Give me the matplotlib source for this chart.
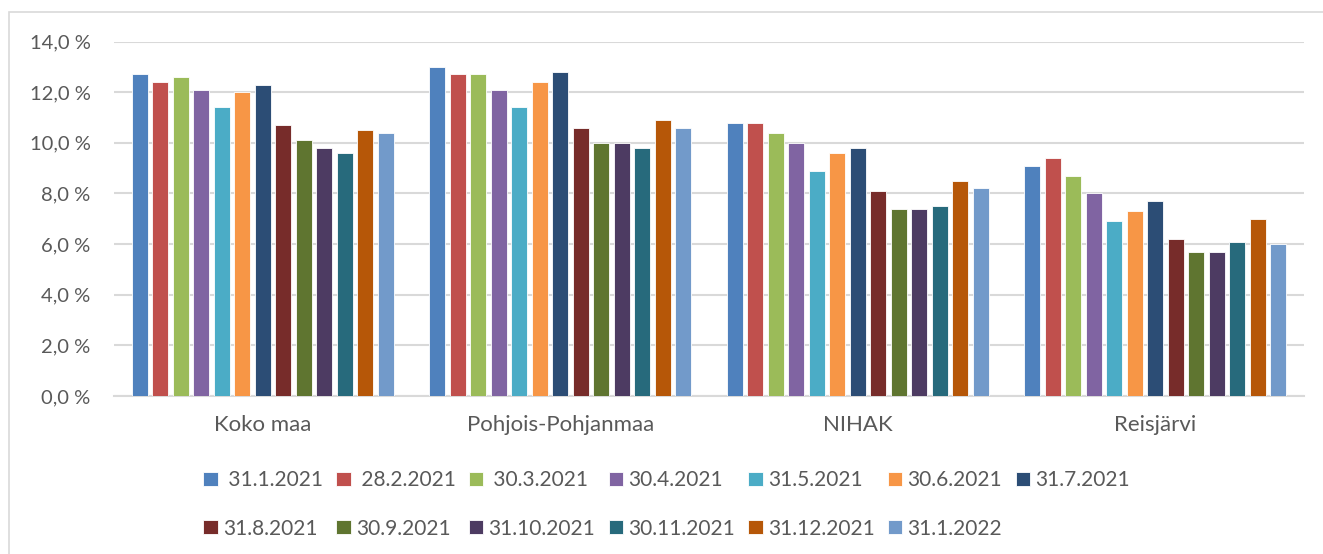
import matplotlib

matplotlib.use("Agg")
import matplotlib.pyplot as plt
import numpy as np
from matplotlib.patches import Rectangle

regions = ["Koko maa", "Pohjois-Pohjanmaa", "NIHAK", "Reisjärvi"]
dates = [
    " 31.1.2021", " 28.2.2021", " 30.3.2021", "30.4.2021", "31.5.2021",
    "30.6.2021", "31.7.2021", "31.8.2021", "30.9.2021", "31.10.2021",
    "30.11.2021", "31.12.2021", "31.1.2022",
]
# unemployment rate (%) per date, columns follow `regions`
rates = [
    [12.7, 13.0, 10.8, 9.1],
    [12.4, 12.7, 10.8, 9.4],
    [12.6, 12.7, 10.4, 8.7],
    [12.1, 12.1, 10.0, 8.0],
    [11.4, 11.4, 8.9, 6.9],
    [12.0, 12.4, 9.6, 7.3],
    [12.3, 12.8, 9.8, 7.7],
    [10.7, 10.6, 8.1, 6.2],
    [10.1, 10.0, 7.4, 5.7],
    [9.8, 10.0, 7.4, 5.7],
    [9.6, 9.8, 7.5, 6.1],
    [10.5, 10.9, 8.5, 7.0],
    [10.4, 10.6, 8.2, 6.0],
]
colors = [
    "#4F81BD", "#C0504D", "#9BBB59", "#8064A2", "#4BACC6", "#F79646",
    "#2C4D75", "#772C2A", "#5F7530", "#4D3B62", "#276A7C", "#B65708",
    "#729ACA",
]
yticks = [0, 2, 4, 6, 8, 10, 12, 14]

TEXT = "#595959"
GRID = "#D9D9D9"
plt.rcParams["font.family"] = ["Lato", "DejaVu Sans"]

W, H = 1323, 554
fig = plt.figure(figsize=(W / 100, H / 100), dpi=100)
ax = fig.add_axes([114 / W, 1 - 396 / H, (1304 - 114) / W, (396 - 41.5) / H])

x = np.arange(len(regions))
slot = 20.5 / 297.5
n = len(dates)
for i, (label, vals, col) in enumerate(zip(dates, rates, colors)):
    offs = (i - (n - 1) / 2) * slot
    ax.bar(x + offs, vals, width=slot * 0.8, color=col, label=label,
           edgecolor="white", linewidth=0.6, zorder=3)

ax.set_xlim(-0.5, len(regions) - 0.5)
ax.set_ylim(0, 14)
ax.set_yticks(yticks)
ax.set_yticklabels([f"{v:.1f} %".replace(".", ",") for v in yticks])
ax.set_xticks(x)
ax.set_xticklabels(regions)
ax.tick_params(axis="both", length=0, colors=TEXT)
ax.tick_params(axis="y", pad=17, labelsize=14.5)
ax.tick_params(axis="x", pad=14, labelsize=16)
ax.grid(axis="y", color=GRID, linewidth=1.5, zorder=0)
for side in ["top", "right", "left"]:
    ax.spines[side].set_visible(False)
ax.spines["bottom"].set_color(GRID)
ax.spines["bottom"].set_linewidth(1.5)

# legend reads row by row, matplotlib fills column by column
handles, labels = ax.get_legend_handles_labels()
order = [0, 7, 1, 8, 2, 9, 3, 10, 4, 11, 5, 12, 6]
fig.legend(
    [handles[k] for k in order], [labels[k] for k in order],
    loc="upper left", bbox_to_anchor=(193 / W, 1 - 460 / H), ncol=7,
    frameon=False, fontsize=15, labelcolor=TEXT,
    handlelength=0.68, handleheight=0.68, handletextpad=0.25,
    columnspacing=0.65, labelspacing=1.35, borderpad=0,
)

fig.patches.append(Rectangle((9 / W, -0.1), 2, 1.1 - 12 / H,
                             transform=fig.transFigure, fill=False,
                             edgecolor=GRID, linewidth=1.2))

fig.savefig("out.png", dpi=100, facecolor="white")
